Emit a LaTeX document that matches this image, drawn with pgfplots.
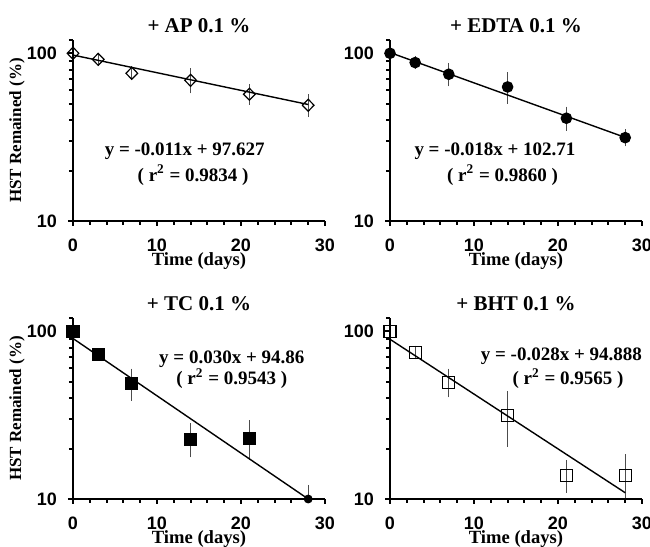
\documentclass[border=0pt]{standalone}
\usepackage{fontspec}
\setmainfont{Liberation Serif}
\newfontfamily\arialfont{Liberation Sans}
\usepackage{pgfplots}
\pgfplotsset{compat=1.18}

\newcommand{\tickfont}{\arialfont\bfseries\fontsize{9}{10}\selectfont}
\newcommand{\eqfont}{\bfseries\fontsize{9.5}{11}\selectfont}

\pgfplotsset{
  stabpanel/.style={
    scale only axis, width=126pt, height=90.5pt,
    xmin=0, xmax=30, ymin=10, ymax=120,
    axis x line*=bottom, axis y line*=left,
    axis line style={line width=1pt, draw=black},
    xtick={0,10,20,30}, minor xtick={2,4,6,8,12,14,16,18,22,24,26,28},
    ytick={10,100}, minor ytick={20,30,40,50,60,70,80,90,120},
    log ticks with fixed point,
    tick align=outside, major tick length=2.5pt, minor tick length=2pt,
    major tick style={line width=1pt, draw=black},
    minor tick style={line width=1pt, draw=black},
    ticklabel style={font=\tickfont},
    xticklabel style={yshift=-3pt}, yticklabel style={xshift=-2pt},
    xlabel={Time (days)},
    xlabel style={font=\bfseries\fontsize{9.3}{11}\selectfont, at={(axis description cs:0.5,-0.22)}, anchor=center},
    every axis title shift=0pt,
    title style={font=\bfseries\fontsize{10.5}{12}\selectfont, at={(axis description cs:0.5,1.08)}, anchor=center},
    clip=false, axis on top,
  },
  stabylab/.style={
    ylabel={HST Remained (\%)},
    ylabel style={font=\bfseries\fontsize{8.5}{10}\selectfont, at={(axis description cs:-0.222,0.5)}, anchor=center},
  },
  stabpts/.style={only marks, black, mark options={line width=0.6pt},
    error bars/y dir=both, error bars/y explicit,
    error bars/error bar style={line width=0.5pt, black!70},
    error bars/error mark options={line width=0.5pt, black!70, mark size=2pt}},
  stabfit/.style={black, line width=0.7pt, no marks},
}
\newcommand{\axisframe}{\draw[line width=1pt, black] (rel axis cs:0,1) -- (rel axis cs:0,0) -- (rel axis cs:1,0);}

\begin{document}
\begin{tikzpicture}
\path[use as bounding box] (0,0) rectangle (325pt,-273.5pt);

% + AP 0.1 %
\begin{axis}[ymode=log, stabpanel, stabylab, /pgf/number format/assume math mode=true,
  at={(36.5pt,-110.5pt)}, anchor=south west, title={+ AP 0.1 \%}]
\addplot[stabpts, mark=diamond, mark size=3pt, mark options={xscale=1.3, line width=0.6pt}] coordinates {
  (0,100) +- (0,1.5) (3,92) +- (0,3) (7,76) +- (0,3) (14,69) +- (0,8) (21,57) +- (0,5) (28,49) +- (0,5)
};
\addplot[stabfit] coordinates {(0,97.6) (28,49.5)};
\node[font=\eqfont] at (axis cs:13.3,25.9) {y = -0.011x + 97.627};
\node[font=\eqfont] at (axis cs:14.3,18.8) {( r\textsuperscript{2} = 0.9834 )};
\axisframe
\end{axis}

% + EDTA 0.1 %
\begin{axis}[ymode=log, stabpanel, /pgf/number format/assume math mode=true,
  at={(195pt,-110.5pt)}, anchor=south west, title={+ EDTA 0.1 \%}]
\addplot[stabpts, mark=*, mark size=2.6pt] coordinates {
  (0,100) +- (0,2) (3,88) +- (0,3) (7,75) +- (0,8) (14,63) +- (0,10) (21,41) +- (0,4.5) (28,31.4) +- (0,2)
};
\addplot[stabfit] coordinates {(0,101) (28,31.5)};
\node[font=\eqfont] at (axis cs:12.5,25.9) {y = -0.018x + 102.71};
\node[font=\eqfont] at (axis cs:13.4,18.8) {( r\textsuperscript{2} = 0.9860 )};
\axisframe
\end{axis}

% + TC 0.1 %
\begin{axis}[ymode=log, stabpanel, stabylab, /pgf/number format/assume math mode=true,
  at={(36.5pt,-249.5pt)}, anchor=south west, title={+ TC 0.1 \%}]
\addplot[stabpts, mark=square*, mark size=3pt] coordinates {
  (0,100) +- (0,2) (3,72.6) +- (0,2) (7,48.6) +- (0,8) (14,22.7) +- (0,4) (21,23) +- (0,5)
};
% day 28: the point lies below the axis; only the upper part of its error bar shows
\addplot[stabpts, mark=none, mark options={draw=none, fill=none}, error bars/y dir=plus] coordinates {(28,10) +- (0,1.5)};
\addplot[stabfit] coordinates {(0,90.6) (28,10)};
\node[font=\eqfont] at (axis cs:18.9,67.8) {y = 0.030x + 94.86};
\node[font=\eqfont] at (axis cs:18.9,52.1) {( r\textsuperscript{2} = 0.9543 )};
\axisframe
\end{axis}

% + BHT 0.1 %
\begin{axis}[ymode=log, stabpanel, /pgf/number format/assume math mode=true,
  at={(195pt,-249.5pt)}, anchor=south west, title={+ BHT 0.1 \%}]
\addplot[stabpts, mark=square, mark size=3pt] coordinates {
  (0,100) +- (0,2) (3,74.8) +- (0,3) (7,49.7) +- (0,7) (14,31.6) +- (0,10) (21,13.8) +- (0,2.3) (28,13.8) +- (0,3.7)
};
\addplot[stabfit] coordinates {(0,89.6) (28,10.9)};
\node[font=\eqfont] at (axis cs:20.4,70.6) {y = -0.028x + 94.888};
\node[font=\eqfont] at (axis cs:21.2,52.1) {( r\textsuperscript{2} = 0.9565 )};
\axisframe
\end{axis}
\end{tikzpicture}
\end{document}
